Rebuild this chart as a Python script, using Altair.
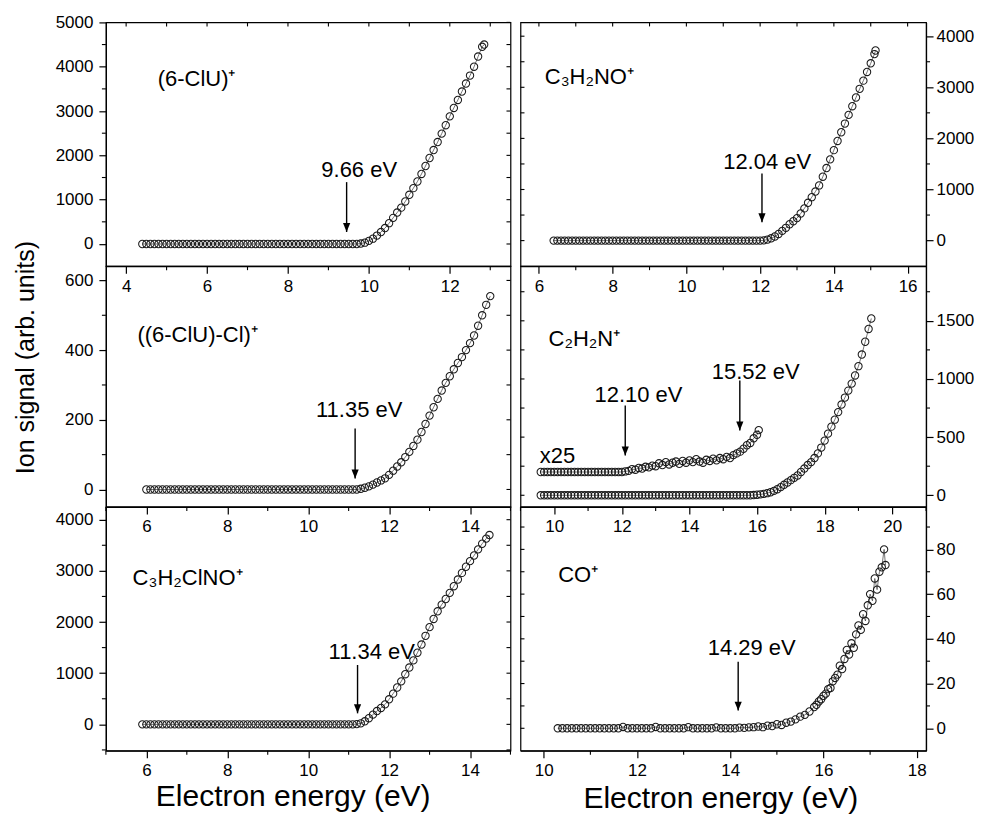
import altair as alt
import pandas as pd

FONT = "Liberation Sans"

# ---------------- data ----------------
# (6-ClU)+
P1_X = [4.4,4.5,4.6,4.7,4.8,4.9,5.0,5.1,5.2,5.3,
        5.4,5.5,5.6,5.7,5.8,5.9,6.0,6.1,6.2,6.3,
        6.4,6.5,6.6,6.7,6.8,6.9,7.0,7.1,7.2,7.3,
        7.4,7.5,7.6,7.7,7.8,7.9,8.0,8.1,8.2,8.3,
        8.4,8.5,8.6,8.7,8.8,8.9,9.0,9.1,9.2,9.3,
        9.4,9.5,9.6,9.7,9.8,9.9,10.0,10.1,10.2,10.3,
        10.4,10.5,10.6,10.7,10.8,10.9,11.0,11.1,11.2,11.3,
        11.4,11.5,11.6,11.7,11.8,11.9,12.0,12.1,12.2,12.3,
        12.4,12.5,12.6,12.7,12.8,12.85]
P1_Y = [0,0,0,0,0,0,0,0,0,0,
        0,0,0,0,0,0,0,0,0,0,
        0,0,0,0,0,0,0,0,0,0,
        0,0,0,0,0,0,0,0,0,0,
        0,0,0,0,0,0,0,0,0,0,
        0,0,0,0,10,30,70,120,190,270,
        360,470,590,710,820,960,1110,1260,1410,1580,
        1760,1940,2120,2300,2490,2680,2880,3070,3250,3440,
        3620,3800,4000,4230,4450,4500]

# C3H2NO+
P2_X = [6.4,6.5,6.6,6.7,6.8,6.9,7.0,7.1,7.2,7.3,
        7.4,7.5,7.6,7.7,7.8,7.9,8.0,8.1,8.2,8.3,
        8.4,8.5,8.6,8.7,8.8,8.9,9.0,9.1,9.2,9.3,
        9.4,9.5,9.6,9.7,9.8,9.9,10.0,10.1,10.2,10.3,
        10.4,10.5,10.6,10.7,10.8,10.9,11.0,11.1,11.2,11.3,
        11.4,11.5,11.6,11.7,11.8,11.9,12.0,12.1,12.2,12.3,
        12.4,12.5,12.6,12.7,12.8,12.9,13.0,13.1,13.2,13.3,
        13.4,13.5,13.6,13.7,13.8,13.9,14.0,14.1,14.2,14.3,
        14.4,14.5,14.6,14.7,14.8,14.9,15.0,15.1,15.13]
P2_Y = [0,0,0,0,0,0,0,0,0,0,
        0,0,0,0,0,0,0,0,0,0,
        0,0,0,0,0,0,0,0,0,0,
        0,0,0,0,0,0,0,0,0,0,
        0,0,0,0,0,0,0,0,0,0,
        0,0,0,0,0,0,0,5,20,45,
        80,130,190,250,320,380,440,530,630,740,
        850,960,1080,1250,1420,1590,1770,1950,2120,2290,
        2460,2630,2800,2970,3130,3300,3470,3650,3720]

# ((6-ClU)-Cl)+
P3_X = [6.0,6.1,6.2,6.3,6.4,6.5,6.6,6.7,6.8,6.9,
        7.0,7.1,7.2,7.3,7.4,7.5,7.6,7.7,7.8,7.9,
        8.0,8.1,8.2,8.3,8.4,8.5,8.6,8.7,8.8,8.9,
        9.0,9.1,9.2,9.3,9.4,9.5,9.6,9.7,9.8,9.9,
        10.0,10.1,10.2,10.3,10.4,10.5,10.6,10.7,10.8,10.9,
        11.0,11.1,11.2,11.3,11.4,11.5,11.6,11.7,11.8,11.9,
        12.0,12.1,12.2,12.3,12.4,12.5,12.6,12.7,12.8,12.9,
        13.0,13.1,13.2,13.3,13.4,13.5,13.6,13.7,13.8,13.9,
        14.0,14.1,14.2,14.3,14.4,14.5]
P3_Y = [0,0,0,0,0,0,0,0,0,0,
        0,0,0,0,0,0,0,0,0,0,
        0,0,0,0,0,0,0,0,0,0,
        0,0,0,0,0,0,0,0,0,0,
        0,0,0,0,0,0,0,0,0,0,
        0,0,0,2,5,9,14,20,26,32,
        42,54,66,78,93,108,125,143,165,188,
        212,236,260,284,306,325,345,363,380,400,
        420,442,470,500,530,555]

# C2H2N+
P4_X = [9.6,9.7,9.8,9.9,10.0,10.1,10.2,10.3,10.4,10.5,
        10.6,10.7,10.8,10.9,11.0,11.1,11.2,11.3,11.4,11.5,
        11.6,11.7,11.8,11.9,12.0,12.1,12.2,12.3,12.4,12.5,
        12.6,12.7,12.8,12.9,13.0,13.1,13.2,13.3,13.4,13.5,
        13.6,13.7,13.8,13.9,14.0,14.1,14.2,14.3,14.4,14.5,
        14.6,14.7,14.8,14.9,15.0,15.1,15.2,15.3,15.4,15.5,
        15.6,15.7,15.8,15.9,16.0,16.1,16.2,16.3,16.4,16.5,
        16.6,16.7,16.8,16.9,17.0,17.1,17.2,17.3,17.4,17.5,
        17.6,17.7,17.8,17.9,18.0,18.1,18.2,18.3,18.4,18.5,
        18.6,18.7,18.8,18.9,19.0,19.1,19.2,19.3,19.38]
P4_Y = [0,0,0,0,0,0,0,0,0,0,
        0,0,0,0,0,0,0,0,0,0,
        0,0,0,0,0,0,0,0,0,0,
        0,0,0,0,0,0,0,0,0,0,
        0,0,0,0,0,0,0,0,0,0,
        0,0,0,0,0,0,0,0,0,0,
        0,0,0,2,5,8,12,18,26,38,
        52,70,90,110,130,150,170,200,230,260,
        285,320,360,410,470,530,590,650,715,780,
        840,900,960,1030,1110,1210,1320,1430,1520]

# C2H2N+ magnified x25 (offset trace)
X25_X = [9.6,9.7,9.8,9.9,10.0,10.1,10.2,10.3,10.4,10.5,
         10.6,10.7,10.8,10.9,11.0,11.1,11.2,11.3,11.4,11.5,
         11.6,11.7,11.8,11.9,12.0,12.1,12.2,12.3,12.4,12.5,
         12.6,12.7,12.8,12.9,13.0,13.1,13.2,13.3,13.4,13.5,
         13.6,13.7,13.8,13.9,14.0,14.1,14.2,14.3,14.4,14.5,
         14.6,14.7,14.8,14.9,15.0,15.1,15.2,15.3,15.4,15.5,
         15.6,15.7,15.8,15.9,16.0,16.05]
X25_Y = [200,200,200,200,200,200,200,200,200,200,
         200,200,200,200,200,200,200,200,200,200,
         200,200,200,200,200,205,210,225,220,235,
         230,245,240,255,250,275,260,285,265,280,
         290,270,295,280,300,285,310,290,280,305,
         295,315,300,320,310,330,320,345,360,375,
         400,430,450,490,520,560]

# C3H2ClNO+
P5_X = [5.9,6.0,6.1,6.2,6.3,6.4,6.5,6.6,6.7,6.8,
        6.9,7.0,7.1,7.2,7.3,7.4,7.5,7.6,7.7,7.8,
        7.9,8.0,8.1,8.2,8.3,8.4,8.5,8.6,8.7,8.8,
        8.9,9.0,9.1,9.2,9.3,9.4,9.5,9.6,9.7,9.8,
        9.9,10.0,10.1,10.2,10.3,10.4,10.5,10.6,10.7,10.8,
        10.9,11.0,11.1,11.2,11.3,11.4,11.5,11.6,11.7,11.8,
        11.9,12.0,12.1,12.2,12.3,12.4,12.5,12.6,12.7,12.8,
        12.9,13.0,13.1,13.2,13.3,13.4,13.5,13.6,13.7,13.8,
        13.9,14.0,14.1,14.2,14.3,14.4,14.48]
P5_Y = [0,0,0,0,0,0,0,0,0,0,
        0,0,0,0,0,0,0,0,0,0,
        0,0,0,0,0,0,0,0,0,0,
        0,0,0,0,0,0,0,0,0,0,
        0,0,0,0,0,0,0,0,0,0,
        0,0,0,5,20,60,120,190,260,320,
        390,490,600,720,840,980,1110,1250,1400,1560,
        1730,1900,2060,2210,2340,2450,2570,2700,2830,2960,
        3080,3190,3300,3420,3530,3630,3700]

# CO+
P6_X = [10.3,10.4,10.5,10.6,10.7,10.8,10.9,11.0,11.1,11.2,
        11.3,11.4,11.5,11.6,11.7,11.8,11.9,12.0,12.1,12.2,
        12.3,12.4,12.5,12.6,12.7,12.8,12.9,13.0,13.1,13.2,
        13.3,13.4,13.5,13.6,13.7,13.8,13.9,14.0,14.1,14.2,
        14.3,14.4,14.5,14.6,14.7,14.8,14.9,15.0,15.1,15.2,
        15.3,15.4,15.5,15.6,15.7,15.8,15.85,15.9,15.95,16.0,
        16.05,16.1,16.15,16.2,16.25,16.3,16.35,16.4,16.45,16.5,
        16.55,16.6,16.65,16.7,16.75,16.8,16.85,16.9,16.95,17.0,
        17.05,17.1,17.15,17.2,17.25,17.3,17.33]
P6_Y = [0,0,0,0,0,0,0,0,0,0,
        0,0,0,0,0.6,0,0,0,0,0,
        0,0.6,0,0,0,0,0,0,0.5,0,
        0,0,0,0,0.4,0,0,0,0,0.3,
        0.2,0.4,0.5,0.8,0.5,1.2,1.0,1.8,1.5,2.5,
        3.0,4.0,5.2,6.0,7.5,9.5,10.5,12,13,14.5,
        15.5,17.5,18,21,22.5,24,28,26.5,31,35,
        33,38,36,42,46,44,51,48,55,60,
        57,67,62,70,72,80,73]

# panel labels
LABELS = ["(6-ClU)⁺", "C₃H₂NO⁺", "((6-ClU)-Cl)⁺", "C₂H₂N⁺", "C₃H₂ClNO⁺", "CO⁺"]
LABEL_X = [4.78, 6.16, 5.78, 9.83, 5.66, 10.31]
LABEL_Y = [3574, 3066, 423, 1286, 2722, 65.4]

# threshold annotations: arrow x, arrow top, arrow tip, text, text x, text y
P1_ARROWS = {"x": [9.45], "y1": [1396], "y2": [270], "t": ["9.66 eV"], "tx": [9.76], "ty": [1509]}
P2_ARROWS = {"x": [12.05], "y1": [1312], "y2": [357], "t": ["12.04 eV"], "tx": [12.19], "ty": [1409]}
P3_ARROWS = {"x": [11.16], "y1": [175], "y2": [31.5], "t": ["11.35 eV"], "tx": [11.26], "ty": [208]}
P4_ARROWS = {"x": [12.1, 15.49], "y1": [771, 986], "y2": [343, 557],
             "t": ["12.10 eV", "15.52 eV"], "tx": [12.49, 15.96], "ty": [800, 1000]}
P5_ARROWS = {"x": [11.22], "y1": [1160], "y2": [215], "t": ["11.34 eV"], "tx": [11.57], "ty": [1277]}
P6_ARROWS = {"x": [14.17], "y1": [29.7], "y2": [7.9], "t": ["14.29 eV"], "tx": [14.46], "ty": [32.7]}

# axes
P1_XDOM, P1_XMAJ, P1_XMIN = [3.5, 13.5], [4, 6, 8, 10, 12], [5, 7, 9, 11, 13]
P1_YDOM, P1_YMAJ, P1_YMIN = [-500, 5000], [0, 1000, 2000, 3000, 4000, 5000], [500, 1500, 2500, 3500, 4500]
P2_XDOM, P2_XMAJ, P2_XMIN = [5.5, 16.5], [6, 8, 10, 12, 14, 16], [7, 9, 11, 13, 15]
P2_YDOM, P2_YMAJ, P2_YMIN = [-500, 4270], [0, 1000, 2000, 3000, 4000], [500, 1500, 2500, 3500]
P3_XDOM, P3_XMAJ, P3_XMIN = [5, 15], [6, 8, 10, 12, 14], [5, 7, 9, 11, 13, 15]
P3_YDOM, P3_YMAJ, P3_YMIN = [-50, 641], [0, 200, 400, 600], [100, 300, 500]
P4_XDOM, P4_XMAJ, P4_XMIN = [9, 21], [10, 12, 14, 16, 18, 20], [9, 11, 13, 15, 17, 19, 21]
P4_YDOM, P4_YMAJ, P4_YMIN = [-100, 1970], [0, 500, 1000, 1500], [250, 750, 1250, 1750]
P5_XDOM, P5_XMAJ, P5_XMIN = [5, 15], [6, 8, 10, 12, 14], [5, 7, 9, 11, 13, 15]
P5_YDOM, P5_YMAJ, P5_YMIN = [-514, 4250], [0, 1000, 2000, 3000, 4000], [-500, 500, 1500, 2500, 3500]
P6_XDOM, P6_XMAJ, P6_XMIN = [9.5, 18.2], [10, 12, 14, 16, 18], [11, 13, 15, 17]
P6_YDOM, P6_YMAJ, P6_YMIN = [-10, 99], [0, 20, 40, 60, 80], [10, 30, 50, 70, 90]

XTITLE = "Electron energy (eV)"
YTITLE = "Ion signal (arb. units)"

W_L, W_R = 405, 406
HEIGHTS = [244, 241, 244]


def panel(series, xdom, xmaj, xmin, ydom, ymaj, ymin, label_i, arrows,
          width, height, side, top_row, xtitle_pos=None, ytitle_pos=None, extra_text=None):
    xsc = alt.Scale(domain=xdom, nice=False, zero=False)
    ysc = alt.Scale(domain=ydom, nice=False, zero=False)
    xkw = dict(values=xmaj, format="d", labelPadding=5, tickSize=7, labelFlush=False)
    if xtitle_pos is not None:
        xkw.update(title=XTITLE, titleFontSize=30, titleX=xtitle_pos[0], titleY=xtitle_pos[1],
                   titleBaseline="alphabetic", titleAlign="center")
    else:
        xkw.update(title=None)
    ykw = dict(values=ymaj, format="d", orient=side, tickSize=7,
               labelPadding=6 if side == "left" else 3)
    if ytitle_pos is not None:
        ykw.update(title=YTITLE, titleFontSize=25, titleX=ytitle_pos[0], titleY=ytitle_pos[1],
                   titleAngle=270, titleAlign="center", titleBaseline="middle")
    else:
        ykw.update(title=None)
    xaxis = alt.Axis(**xkw)
    yaxis = alt.Axis(**ykw)

    def X(f):
        return alt.X(f, scale=xsc, axis=xaxis)

    def Y(f):
        return alt.Y(f, scale=ysc, axis=yaxis)

    layers = []
    for xs, ys in series:
        df = pd.DataFrame({"x": xs, "y": ys})
        base = alt.Chart(df)
        layers.append(base.mark_line(color="#3a3a3a", strokeWidth=0.7).encode(x=X("x:Q"), y=Y("y:Q")))
        layers.append(base.mark_point(shape="circle", filled=False, size=54, color="#1a1a1a",
                                      strokeWidth=1.05, opacity=1).encode(x=X("x:Q"), y=Y("y:Q")))

    # minor ticks (outside)
    layers.append(alt.Chart(pd.DataFrame({"v": xmin})).mark_rule(color="black", strokeWidth=1.1).encode(
        x=X("v:Q"), y=alt.value(height), y2=alt.value(height + 4)))
    if side == "left":
        layers.append(alt.Chart(pd.DataFrame({"v": ymin})).mark_rule(color="black", strokeWidth=1.1).encode(
            y=Y("v:Q"), x=alt.value(-4), x2=alt.value(0)))
        layers.append(alt.Chart(pd.DataFrame({"v": ymaj + ymin})).mark_rule(color="black", strokeWidth=1.1).encode(
            y=Y("v:Q"), x=alt.value(width - 4), x2=alt.value(width)))
    else:
        layers.append(alt.Chart(pd.DataFrame({"v": ymin})).mark_rule(color="black", strokeWidth=1.1).encode(
            y=Y("v:Q"), x=alt.value(width), x2=alt.value(width + 4)))
        layers.append(alt.Chart(pd.DataFrame({"v": ymaj + ymin})).mark_rule(color="black", strokeWidth=1.1).encode(
            y=Y("v:Q"), x=alt.value(0), x2=alt.value(4)))
    if top_row:
        layers.append(alt.Chart(pd.DataFrame({"v": xmaj + xmin})).mark_rule(color="black", strokeWidth=1.1).encode(
            x=X("v:Q"), y=alt.value(0), y2=alt.value(4)))

    # label
    ldf = pd.DataFrame({"x": [LABEL_X[label_i]], "y": [LABEL_Y[label_i]], "t": [LABELS[label_i]]})
    if extra_text is not None:
        ldf = pd.concat([ldf, pd.DataFrame(extra_text)], ignore_index=True)
    layers.append(alt.Chart(ldf).mark_text(align="left", baseline="alphabetic", font=FONT,
                                            fontSize=22, color="black").encode(
        x=X("x:Q"), y=Y("y:Q"), text="t:N"))

    # arrows
    adf = pd.DataFrame(arrows)
    layers.append(alt.Chart(adf).mark_rule(color="black", strokeWidth=1.4).encode(
        x=X("x:Q"), y=Y("y1:Q"), y2="y2:Q"))
    layers.append(alt.Chart(adf).mark_point(shape="M-0.4,-1L0.4,-1L0,0Z", filled=True, size=324,
                                            color="black", opacity=1).encode(
        x=X("x:Q"), y=Y("y2:Q")))
    layers.append(alt.Chart(adf).mark_text(align="center", baseline="alphabetic", font=FONT,
                                           fontSize=22, color="black").encode(
        x=X("tx:Q"), y=Y("ty:Q"), text="t:N"))

    return alt.layer(*layers).properties(width=width, height=height)


p1 = panel([(P1_X, P1_Y)], P1_XDOM, P1_XMAJ, P1_XMIN, P1_YDOM, P1_YMAJ, P1_YMIN, 0, P1_ARROWS,
           W_L, HEIGHTS[0], "left", True)
p3 = panel([(P3_X, P3_Y)], P3_XDOM, P3_XMAJ, P3_XMIN, P3_YDOM, P3_YMAJ, P3_YMIN, 2, P3_ARROWS,
           W_L, HEIGHTS[1], "left", False, ytitle_pos=(-80, 91))
p5 = panel([(P5_X, P5_Y)], P5_XDOM, P5_XMAJ, P5_XMIN, P5_YDOM, P5_YMAJ, P5_YMIN, 4, P5_ARROWS,
           W_L, HEIGHTS[2], "left", False, xtitle_pos=(187, 55))
p2 = panel([(P2_X, P2_Y)], P2_XDOM, P2_XMAJ, P2_XMIN, P2_YDOM, P2_YMAJ, P2_YMIN, 1, P2_ARROWS,
           W_R, HEIGHTS[0], "right", True)
p4 = panel([(P4_X, P4_Y), (X25_X, X25_Y)], P4_XDOM, P4_XMAJ, P4_XMIN, P4_YDOM, P4_YMAJ, P4_YMIN, 3,
           P4_ARROWS, W_R, HEIGHTS[1], "right", False,
           extra_text={"x": [9.57], "y": [277], "t": ["x25"]})
p6 = panel([(P6_X, P6_Y)], P6_XDOM, P6_XMAJ, P6_XMIN, P6_YDOM, P6_YMAJ, P6_YMIN, 5, P6_ARROWS,
           W_R, HEIGHTS[2], "right", False, xtitle_pos=(200, 57))

chart = alt.concat(p1, p2, p3, p4, p5, p6, columns=2,
                   spacing={"row": 0, "column": 10}, bounds="flush").properties(
    padding={"left": 5, "top": 4, "right": 0, "bottom": 0}
).configure_view(
    stroke="black", strokeWidth=1.2
).configure_axis(
    domainColor="black", domainWidth=1.2, tickColor="black", tickWidth=1.2,
    labelFont=FONT, labelFontSize=17, labelColor="black",
    titleFont=FONT, titleColor="black", titleFontWeight="normal",
    grid=False, labelOverlap=False,
)

chart.save("out.html", embed_options={"renderer": "svg", "actions": False})
